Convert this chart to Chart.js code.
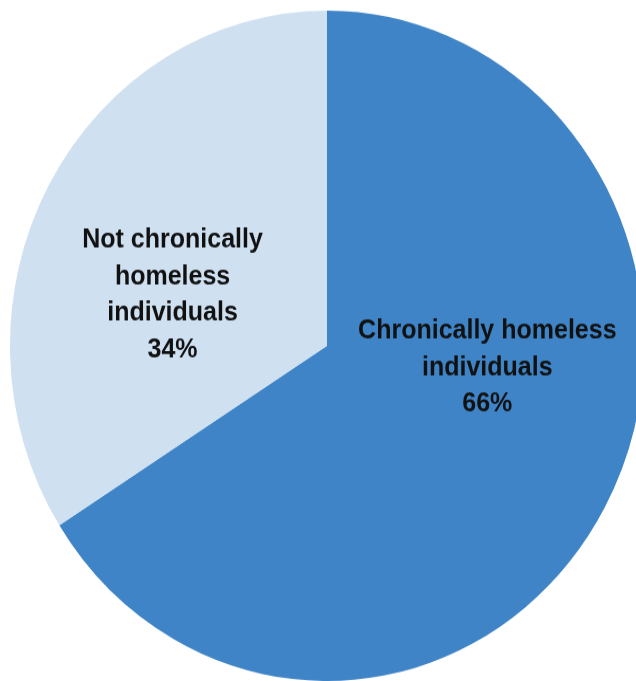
<!DOCTYPE html>
<html>
<head>
<meta charset="utf-8">
<script src="https://cdn.jsdelivr.net/npm/chart.js@4"></script>
<style>
  html, body { margin: 0; padding: 0; background: #fff; overflow: hidden; }
  #pie { display: block; }
</style>
</head>
<body>
<!-- the reference is slightly taller than wide, so the canvas is stretched a bit by css -->
<canvas id="pie" width="660" height="644" style="width:660px;height:681px;"></canvas>
<script>
const categories = ["Chronically homeless individuals", "Not chronically homeless individuals"];
const shares = [66, 34];
const labelLines = [
    ["Chronically homeless", "individuals"],
    ["Not chronically", "homeless", "individuals"]
];
const colours = ["#3e84c6", "#cfe0f1"];

// draws the text inside each slice, like the datalabels plugin would
const sliceLabels = {
    id: "sliceLabels",
    afterDatasetsDraw(chart, args, opts) {
        const ctx = chart.ctx;
        const meta = chart.getDatasetMeta(0);
        ctx.save();
        ctx.font = opts.font;
        ctx.fillStyle = opts.color;
        ctx.textAlign = "center";
        ctx.textBaseline = "middle";
        meta.data.forEach((arc, i) => {
            const p = arc.getProps(["x", "y", "outerRadius"], true);
            const ang = opts.angles[i] * Math.PI / 180;
            const cx = p.x + Math.cos(ang) * p.outerRadius * opts.distance;
            const cy = p.y + Math.sin(ang) * p.outerRadius * opts.distance;
            const lines = labelLines[i].concat([shares[i] + "%"]);
            const top = cy - (lines.length - 1) * opts.lineHeight / 2;
            lines.forEach((t, j) => {
                ctx.fillText(t, cx, top + j * opts.lineHeight);
            });
        });
        ctx.restore();
    }
};

const pieChart = new Chart(document.getElementById("pie"), {
    type: "pie",
    data: {
        labels: categories,
        datasets: [{
            data: shares,
            backgroundColor: colours,
            borderWidth: 0
        }]
    },
    options: {
        responsive: false,
        animation: false,
        devicePixelRatio: 1,
        layout: {
            padding: {left: 10, top: 10, right: 16, bottom: 0}
        },
        plugins: {
            legend: {display: false},
            tooltip: {enabled: false},
            sliceLabels: {
                font: "bold 25px 'Liberation Sans', Arial, sans-serif",
                color: "#111",
                lineHeight: 34.5,
                distance: 0.51,
                angles: [7.4, 197.2]
            }
        }
    },
    plugins: [sliceLabels]
});
</script>
</body>
</html>
